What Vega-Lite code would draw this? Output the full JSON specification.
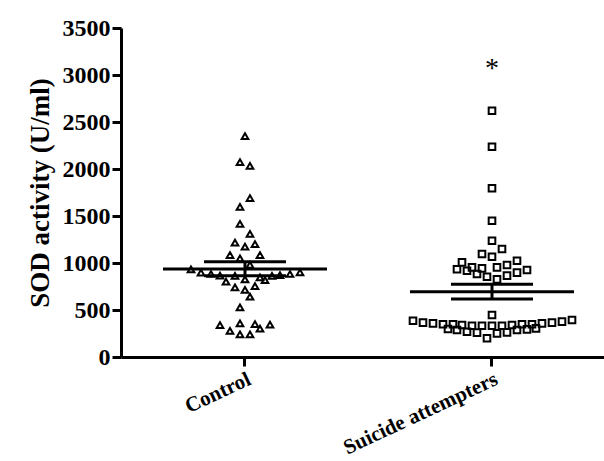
{
  "$schema": "https://vega.github.io/schema/vega-lite/v6.json",
  "width": 483,
  "height": 329,
  "autosize": {"type": "none"},
  "padding": {"left": 121, "top": 28, "right": 0, "bottom": 104},
  "background": "white",
  "config": {"view": {"stroke": null}, "font": "Liberation Serif"},
  "datasets": {
    "points": [
      {"group": "Control", "dx": 0, "value": 2351},
      {"group": "Control", "dx": -5, "value": 2074},
      {"group": "Control", "dx": 5, "value": 2032},
      {"group": "Control", "dx": 5, "value": 1691},
      {"group": "Control", "dx": -5, "value": 1596},
      {"group": "Control", "dx": -5, "value": 1415},
      {"group": "Control", "dx": 5, "value": 1309},
      {"group": "Control", "dx": -10, "value": 1216},
      {"group": "Control", "dx": 0, "value": 1173},
      {"group": "Control", "dx": 10, "value": 1202},
      {"group": "Control", "dx": -15, "value": 1085},
      {"group": "Control", "dx": -5, "value": 1050},
      {"group": "Control", "dx": 15, "value": 1085},
      {"group": "Control", "dx": 5, "value": 979},
      {"group": "Control", "dx": -54, "value": 933},
      {"group": "Control", "dx": -44, "value": 897},
      {"group": "Control", "dx": -34, "value": 883},
      {"group": "Control", "dx": -25, "value": 865},
      {"group": "Control", "dx": -19, "value": 801},
      {"group": "Control", "dx": -10, "value": 862},
      {"group": "Control", "dx": 0, "value": 826},
      {"group": "Control", "dx": 15, "value": 848},
      {"group": "Control", "dx": 20, "value": 819},
      {"group": "Control", "dx": 27, "value": 862},
      {"group": "Control", "dx": 35, "value": 872},
      {"group": "Control", "dx": 45, "value": 883},
      {"group": "Control", "dx": 55, "value": 901},
      {"group": "Control", "dx": -10, "value": 741},
      {"group": "Control", "dx": 0, "value": 713},
      {"group": "Control", "dx": 10, "value": 755},
      {"group": "Control", "dx": 5, "value": 642},
      {"group": "Control", "dx": -5, "value": 529},
      {"group": "Control", "dx": -25, "value": 340},
      {"group": "Control", "dx": -15, "value": 278},
      {"group": "Control", "dx": -5, "value": 358},
      {"group": "Control", "dx": -5, "value": 240},
      {"group": "Control", "dx": 5, "value": 240},
      {"group": "Control", "dx": 10, "value": 351},
      {"group": "Control", "dx": 15, "value": 302},
      {"group": "Control", "dx": 25, "value": 344},
      {"group": "Suicide attempters", "dx": 0, "value": 2620},
      {"group": "Suicide attempters", "dx": 0, "value": 2237},
      {"group": "Suicide attempters", "dx": 0, "value": 1795},
      {"group": "Suicide attempters", "dx": 0, "value": 1450},
      {"group": "Suicide attempters", "dx": 0, "value": 1237},
      {"group": "Suicide attempters", "dx": -10, "value": 1096},
      {"group": "Suicide attempters", "dx": 0, "value": 1067},
      {"group": "Suicide attempters", "dx": 10, "value": 1149},
      {"group": "Suicide attempters", "dx": -30, "value": 1007},
      {"group": "Suicide attempters", "dx": -20, "value": 954},
      {"group": "Suicide attempters", "dx": -10, "value": 943},
      {"group": "Suicide attempters", "dx": -35, "value": 933},
      {"group": "Suicide attempters", "dx": -25, "value": 918},
      {"group": "Suicide attempters", "dx": -15, "value": 883},
      {"group": "Suicide attempters", "dx": -5, "value": 854},
      {"group": "Suicide attempters", "dx": 5, "value": 954},
      {"group": "Suicide attempters", "dx": 15, "value": 979},
      {"group": "Suicide attempters", "dx": 25, "value": 1024},
      {"group": "Suicide attempters", "dx": 5, "value": 826},
      {"group": "Suicide attempters", "dx": 15, "value": 865},
      {"group": "Suicide attempters", "dx": 25, "value": 897},
      {"group": "Suicide attempters", "dx": 35, "value": 926},
      {"group": "Suicide attempters", "dx": 0, "value": 447},
      {"group": "Suicide attempters", "dx": -79, "value": 386},
      {"group": "Suicide attempters", "dx": -69, "value": 365},
      {"group": "Suicide attempters", "dx": -59, "value": 358},
      {"group": "Suicide attempters", "dx": -49, "value": 348},
      {"group": "Suicide attempters", "dx": -39, "value": 348},
      {"group": "Suicide attempters", "dx": -30, "value": 340},
      {"group": "Suicide attempters", "dx": -20, "value": 333},
      {"group": "Suicide attempters", "dx": -10, "value": 333},
      {"group": "Suicide attempters", "dx": 0, "value": 333},
      {"group": "Suicide attempters", "dx": 10, "value": 333},
      {"group": "Suicide attempters", "dx": 20, "value": 340},
      {"group": "Suicide attempters", "dx": 30, "value": 348},
      {"group": "Suicide attempters", "dx": 40, "value": 348},
      {"group": "Suicide attempters", "dx": 50, "value": 358},
      {"group": "Suicide attempters", "dx": 60, "value": 365},
      {"group": "Suicide attempters", "dx": 70, "value": 376},
      {"group": "Suicide attempters", "dx": 80, "value": 394},
      {"group": "Suicide attempters", "dx": -44, "value": 298},
      {"group": "Suicide attempters", "dx": -35, "value": 287},
      {"group": "Suicide attempters", "dx": -25, "value": 269},
      {"group": "Suicide attempters", "dx": -15, "value": 259},
      {"group": "Suicide attempters", "dx": 5, "value": 252},
      {"group": "Suicide attempters", "dx": 15, "value": 262},
      {"group": "Suicide attempters", "dx": 25, "value": 287},
      {"group": "Suicide attempters", "dx": 35, "value": 294},
      {"group": "Suicide attempters", "dx": 44, "value": 305},
      {"group": "Suicide attempters", "dx": -5, "value": 199}
    ],
    "summary": [
      {"group": "Control", "mean": 936, "lo": 865, "hi": 1012},
      {"group": "Suicide attempters", "mean": 695, "lo": 617, "hi": 773}
    ],
    "notes": [
      {"group": "Suicide attempters", "value": 2975, "label": "*"}
    ]
  },
  "layer": [
    {
      "data": {"name": "points"},
      "mark": {"type": "point", "filled": false, "stroke": "black", "strokeWidth": 2, "size": 44, "opacity": 1},
      "encoding": {
        "x": {"field": "group", "type": "nominal", "sort": ["Control", "Suicide attempters"],
          "scale": {"type": "band", "domain": ["Control", "Suicide attempters"], "paddingInner": 0.3, "paddingOuter": 0.1277, "align": 0.595},
          "axis": {"title": null, "domainColor": "black", "domainWidth": 3, "tickColor": "black", "tickWidth": 3, "tickSize": 9,
            "bandPosition": 0.5, "labelAngle": -25, "labelFont": "Liberation Serif", "labelFontWeight": "bold", "labelFontSize": 21,
            "labelColor": "black", "labelPadding": 2, "labelAlign": "right", "labelBaseline": "top"}},
        "xOffset": {"field": "dx", "type": "quantitative", "scale": {"domain": [-86.45, 86.45], "nice": false, "zero": false}},
        "y": {"field": "value", "type": "quantitative", "scale": {"domain": [0, 3500], "nice": false},
          "axis": {"title": "SOD activity (U/ml)", "values": [0, 500, 1000, 1500, 2000, 2500, 3000, 3500], "format": "d", "grid": false,
            "domainColor": "black", "domainWidth": 3, "tickColor": "black", "tickWidth": 3, "tickSize": 9,
            "labelFont": "Liberation Serif", "labelFontWeight": "bold", "labelFontSize": 24, "labelColor": "black", "labelPadding": 2,
            "titleFont": "Liberation Serif", "titleFontWeight": "bold", "titleFontSize": 27, "titleColor": "black", "titlePadding": 8}},
        "shape": {"field": "group", "type": "nominal", "scale": {"domain": ["Control", "Suicide attempters"], "range": ["triangle-up", "square"]}, "legend": null}
      }
    },
    {
      "data": {"name": "summary"},
      "mark": {"type": "tick", "color": "black", "size": 164, "thickness": 3, "opacity": 1},
      "encoding": {
        "x": {"field": "group", "type": "nominal"},
        "y": {"field": "mean", "type": "quantitative"}
      }
    },
    {
      "data": {"name": "summary"},
      "mark": {"type": "tick", "color": "black", "size": 82, "thickness": 3, "opacity": 1},
      "encoding": {
        "x": {"field": "group", "type": "nominal"},
        "y": {"field": "lo", "type": "quantitative"}
      }
    },
    {
      "data": {"name": "summary"},
      "mark": {"type": "tick", "color": "black", "size": 82, "thickness": 3, "opacity": 1},
      "encoding": {
        "x": {"field": "group", "type": "nominal"},
        "y": {"field": "hi", "type": "quantitative"}
      }
    },
    {
      "data": {"name": "summary"},
      "mark": {"type": "rule", "color": "black", "strokeWidth": 3},
      "encoding": {
        "x": {"field": "group", "type": "nominal"},
        "y": {"field": "lo", "type": "quantitative"},
        "y2": {"field": "hi"}
      }
    },
    {
      "data": {"name": "notes"},
      "mark": {"type": "text", "font": "Liberation Serif", "fontSize": 28, "baseline": "alphabetic", "align": "center", "color": "black"},
      "encoding": {
        "x": {"field": "group", "type": "nominal"},
        "y": {"field": "value", "type": "quantitative"},
        "text": {"field": "label"}
      }
    }
  ]
}
